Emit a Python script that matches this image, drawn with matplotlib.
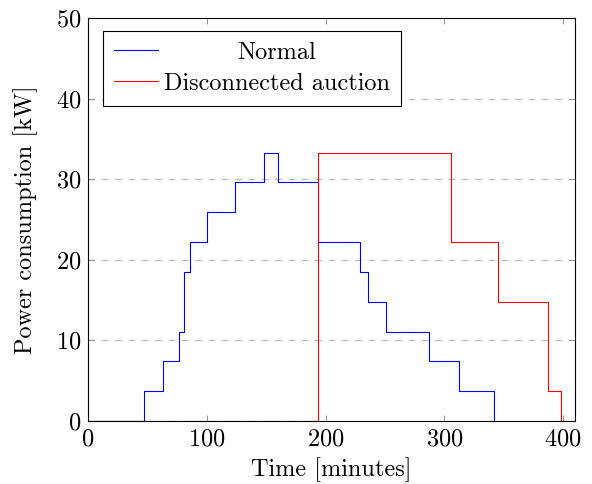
import matplotlib
matplotlib.use("Agg")
import matplotlib.pyplot as plt
from matplotlib.transforms import Affine2D

# Data (minutes, kW) - step changes (value holds after each time)
normal_t = [0, 47, 63, 77, 81, 86, 100, 124, 148, 160, 194, 229, 236, 251, 287, 312, 342]
normal_p = [0, 3.7, 7.4, 11.1, 18.5, 22.2, 25.9, 29.6, 33.3, 29.6, 22.2, 18.5, 14.8, 11.1, 7.4, 3.7, 0]

disc_t = [0, 194, 306, 345, 387, 398]
disc_p = [0, 33.3, 22.2, 14.8, 3.7, 0]

x_ticks = [0, 100, 200, 300, 400]
y_ticks = [0, 10, 20, 30, 40, 50]

FS = 17.5
plt.rcParams['font.family'] = ['cmr10', 'DejaVu Serif']
plt.rcParams['mathtext.fontset'] = 'cm'
plt.rcParams['axes.formatter.use_mathtext'] = True

fig = plt.figure(figsize=(5.92, 4.84), dpi=100)
ax = fig.add_axes([0.1486, 0.1302, 0.8227, 0.8326])

ax.step(normal_t, normal_p, where='post', color=(0, 0, 1), lw=0.8, label='Normal')
ax.step(disc_t, disc_p, where='post', color=(1, 0, 0), lw=0.8, label='Disconnected auction')

ax.set_xlim(0, 410)
ax.set_ylim(0, 50)
ax.set_xticks(x_ticks)
ax.set_yticks(y_ticks)
ax.yaxis.grid(True, linestyle=(0, (6, 6)), color='#b8b8b8', lw=0.8)
ax.set_axisbelow(True)
ax.tick_params(direction='in', top=True, right=True, length=4, width=0.6,
               color='#808080', labelsize=FS, pad=5)
for s in ax.spines.values():
    s.set_linewidth(0.8)
    s.set_color('black')

ax.set_xlabel('Time [minutes]', fontsize=FS, labelpad=5)
ax.set_ylabel('Power consumption [kW]', fontsize=FS, labelpad=13)

leg = ax.legend(loc='upper left', bbox_to_anchor=(0.031, 0.968), fontsize=FS,
                fancybox=False, framealpha=1, edgecolor='black', handlelength=1.8,
                handletextpad=0.25, borderpad=0.45, labelspacing=0.35, borderaxespad=0)
leg.get_frame().set_linewidth(0.8)

# centre the legend entries' text like pgfplots does
fig.canvas.draw()
r = fig.canvas.get_renderer()
texts = leg.get_texts()
widths = [t.get_window_extent(r).width for t in texts]
wmax = max(widths)
for t, w in zip(texts, widths):
    dx = (wmax - w) / 2
    if dx > 0:
        t.set_transform(t.get_transform() + Affine2D().translate(dx, 0))

fig.savefig('out.png', dpi=100)
